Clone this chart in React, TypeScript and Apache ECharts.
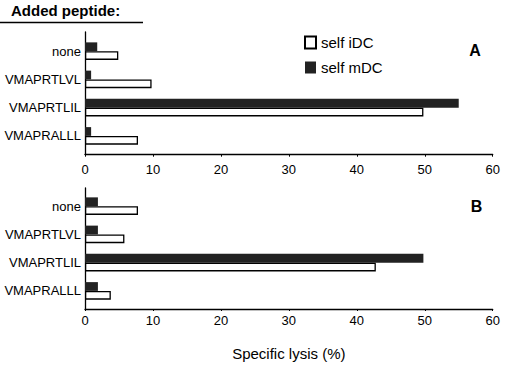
import React, { useEffect, useRef } from "react";
import * as echarts from "echarts";

const categories = ["none", "VMAPRTLVL", "VMAPRTLIL", "VMAPRALLL"];
const panelA_iDC = [4.9, 9.8, 49.8, 7.8];
const panelA_mDC = [1.8, 0.9, 55.0, 0.9];
const panelB_iDC = [7.8, 5.8, 42.8, 3.8];
const panelB_mDC = [1.9, 1.9, 49.8, 1.9];
const xTicks = { min: 0, max: 60, interval: 10 };
const legendNames = ["self iDC", "self mDC"];

const FONT = "'Liberation Sans', Arial, sans-serif";
const DARK = "#222222";

export default function App() {
  const ref = useRef<HTMLDivElement>(null);
  useEffect(() => {
    if (!ref.current) return;
    const chart = echarts.init(ref.current, null, { renderer: "svg" });
    const left = 85;
    const right = 12.3;
    const frameX = (grid: number, labelMargin: number, name?: string) => ({
      type: "value",
      gridIndex: grid,
      ...xTicks,
      splitLine: { show: false },
      axisLine: { show: true, lineStyle: { color: "#000", width: 1.3 } },
      axisTick: { show: true, length: 2, lineStyle: { color: "#000" } },
      axisLabel: { show: true, color: "#000", fontSize: 13, fontFamily: FONT, margin: labelMargin },
      ...(name
        ? {
            name,
            nameLocation: "middle",
            nameGap: 37,
            nameTextStyle: { color: "#000", fontSize: 15, fontFamily: FONT },
          }
        : {}),
    });
    const dataX = (grid: number) => ({
      type: "value",
      gridIndex: grid,
      ...xTicks,
      show: false,
      splitLine: { show: false },
    });
    const frameY = (grid: number) => ({
      type: "category",
      gridIndex: grid,
      data: categories,
      axisLine: { show: true, lineStyle: { color: "#000", width: 1.3 } },
      axisTick: { show: false },
      axisLabel: { show: false },
    });
    const dataY = (grid: number) => ({
      type: "category",
      gridIndex: grid,
      data: categories,
      inverse: true,
      axisLine: { show: false },
      axisTick: { show: false },
      axisLabel: { show: true, color: "#000", fontSize: 13, fontFamily: FONT, margin: 4 },
    });
    const darkSeries = (axis: number, data: number[]) => ({
      type: "bar",
      name: legendNames[1],
      xAxisIndex: axis,
      yAxisIndex: axis,
      data,
      barGap: "0%",
      barCategoryGap: "38%",
      itemStyle: { color: DARK },
    });
    const whiteSeries = (axis: number, data: number[]) => ({
      type: "bar",
      name: legendNames[0],
      xAxisIndex: axis,
      yAxisIndex: axis,
      data,
      barGap: "0%",
      barCategoryGap: "38%",
      itemStyle: { color: "#fff", borderColor: "#000", borderWidth: 1.3 },
    });
    chart.setOption({
      animation: false,
      backgroundColor: "#fff",
      textStyle: { fontFamily: FONT },
      grid: [
        { left, right, top: 32, height: 122.7 },
        { left, right, top: 37, height: 113 },
        { left, right, top: 188, height: 121 },
        { left, right, top: 192, height: 113 },
      ],
      xAxis: [frameX(0, 8), dataX(1), frameX(2, 5, "Specific lysis (%)"), dataX(3)],
      yAxis: [frameY(0), dataY(1), frameY(2), dataY(3)],
      legend: {
        data: legendNames,
        orient: "vertical",
        left: 304,
        top: 35,
        padding: 0,
        itemWidth: 11,
        itemHeight: 12,
        itemGap: 10,
        itemTextGap: 3,
        icon: "rect",
        textStyle: { color: "#000", fontSize: 15, fontFamily: FONT },
      },
      series: [
        darkSeries(1, panelA_mDC),
        whiteSeries(1, panelA_iDC),
        darkSeries(3, panelB_mDC),
        whiteSeries(3, panelB_iDC),
      ],
      graphic: [
        {
          type: "text",
          left: 11,
          top: 3,
          style: { text: "Added peptide:", fontSize: 15, fontWeight: "bold", fontFamily: FONT, fill: "#000" },
        },
        {
          type: "line",
          shape: { x1: 0, y1: 22.5, x2: 143, y2: 22.5 },
          style: { stroke: "#000", lineWidth: 1.5 },
        },
        {
          type: "text",
          x: 475,
          y: 50.5,
          style: {
            text: "A",
            fontSize: 16,
            fontWeight: "bold",
            fontFamily: FONT,
            fill: "#000",
            align: "center",
            verticalAlign: "middle",
          },
        },
        {
          type: "text",
          x: 476.5,
          y: 206,
          style: {
            text: "B",
            fontSize: 16,
            fontWeight: "bold",
            fontFamily: FONT,
            fill: "#000",
            align: "center",
            verticalAlign: "middle",
          },
        },
      ],
    });
    return () => chart.dispose();
  }, []);
  return (
    <div
      ref={ref}
      style={{ position: "absolute", left: 0, top: 0, width: 505, height: 366, background: "#fff" }}
    />
  );
}
